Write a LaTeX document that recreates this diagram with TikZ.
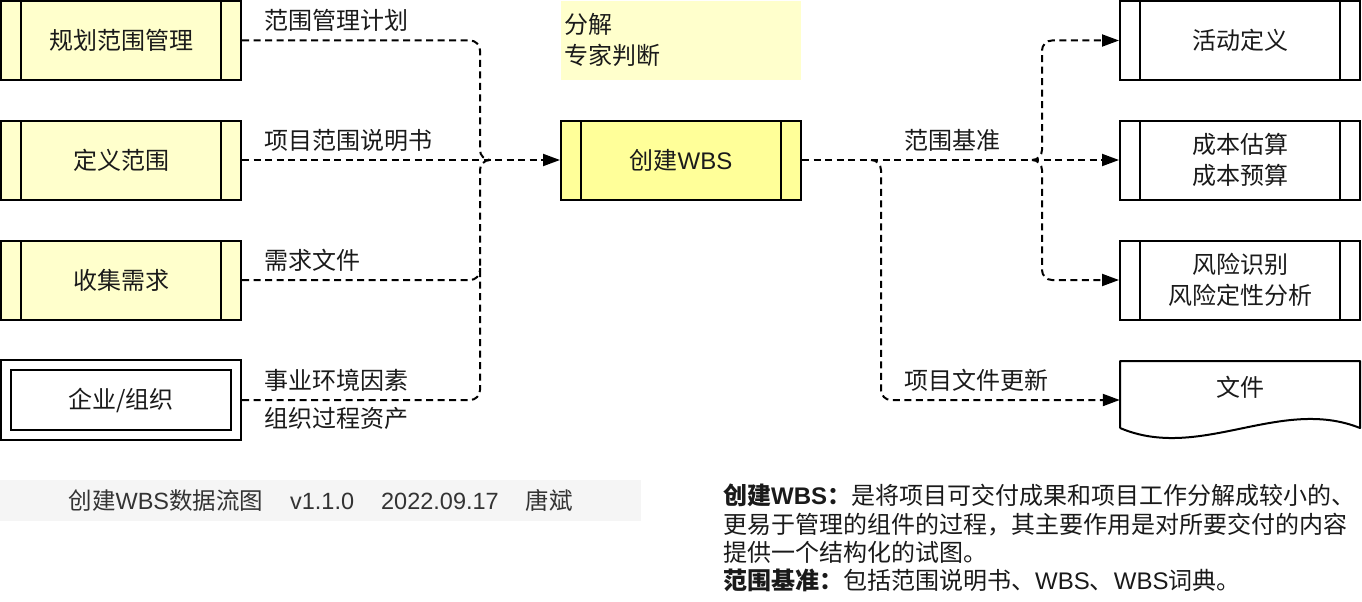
\documentclass[tikz,border=0pt]{standalone}
\usepackage{fontspec}
\setmainfont{Noto Sans CJK SC}
\newfontfamily\lat{Liberation Sans}
\usetikzlibrary{arrows.meta,calc}
\definecolor{paleyellow}{HTML}{FFFFCC}
\definecolor{brightyellow}{HTML}{FFFF99}
\definecolor{footgray}{HTML}{F5F5F5}
\definecolor{ink}{HTML}{1A1A1A}
\definecolor{foottext}{HTML}{333333}

\begin{document}
\begin{tikzpicture}[x=1pt,y=-1pt,
  every node/.style={font=\fontsize{24}{31}\selectfont, text=ink},
  proc/.style={draw=black, line width=2pt, minimum width=240pt,
    minimum height=79pt, inner sep=0pt, align=center,
    path picture={
      \draw[line width=2pt]
        ([xshift=20pt]path picture bounding box.south west) --
        ([xshift=20pt]path picture bounding box.north west)
        ([xshift=-20pt]path picture bounding box.south east) --
        ([xshift=-20pt]path picture bounding box.north east);}},
  inproc/.style={proc, fill=paleyellow},
  mainproc/.style={proc, fill=brightyellow},
  outproc/.style={proc, fill=white},
  entity/.style={draw=black, line width=2pt, double, double distance=8pt,
    minimum width=230pt, minimum height=70pt, outer sep=6pt, inner sep=0pt},
  flowlabel/.style={anchor=west, inner sep=0pt},
  flow/.style={draw=black, line width=2pt, dash pattern=on 7pt off 4.5pt,
    rounded corners=10pt},
  flowarrow/.style={flow, -{Triangle[length=17pt,width=12pt]}},
]
\useasboundingbox (0,0) rectangle (1362,602);

% inputs
\node[inproc] (plan) at (121,40.5) {规划范围管理};
\node[inproc] (define) at (121,160) {定义范围};
\node[inproc] (collect) at (121,280) {收集需求};
\node[entity] (org) at (121,400) {企业/组织};

% tools note and main process
\node[fill=paleyellow, minimum width=240pt, minimum height=79pt] (tools) at (681,40.5) {};
\node[anchor=west, align=left, inner sep=0pt] (toolstext) at (564,40) {分解\\专家判断};
\node[mainproc] (wbs) at (681,160) {创建{\lat WBS}};

% outputs
\node[outproc] (act) at (1240,40.5) {活动定义};
\node[outproc] (cost) at (1240,160) {成本估算\\成本预算};
\node[outproc] (risk) at (1240,280) {风险识别\\风险定性分析};
\node[minimum width=240pt, minimum height=80pt, inner sep=0pt] (doc) at (1240,400) {};
\draw[line width=2pt, line join=round]
  (1120,428) -- (1120,361) -- (1360,361) -- (1360,428)
  .. controls (1280,396) and (1200,462) .. (1120,428);
\node (doctext) at (1240,387) {文件};

% junctions
\coordinate (jl) at (480,160);
\coordinate (jlm) at (490,160);
\coordinate (jc) at (480,268);
\coordinate (jr) at (1042,160);
\coordinate (jrm) at (1032,160);
\coordinate (jd) at (881,160);
\coordinate (jdm) at (871,160);

% input flows
\draw[flow] (plan.east) -| (jl) -- (jlm);
\draw[flowarrow] (define.east) -- (wbs.west);
\draw[flow] (collect.east) -| (jc);
\draw[flow] (org.east) -| (jl) -- (jlm);

% output flows
\draw[flowarrow] (wbs.east) -- (cost.west);
\draw[flowarrow] (jrm) -- (jr) |- (act.west);
\draw[flowarrow] (jrm) -- (jr) |- (risk.west);
\draw[flowarrow] (jdm) -- (jd) |- (doc.west);

% flow labels
\node[flowlabel] at (264,20) {范围管理计划};
\node[flowlabel] at (264,140) {项目范围说明书};
\node[flowlabel] at (264,260) {需求文件};
\node[flowlabel] at (264,380) {事业环境因素};
\node[flowlabel] at (264,418) {组织过程资产};
\node[flowlabel] at (904,140) {范围基准};
\node[flowlabel] at (904,380) {项目文件更新};

% footer
\node[fill=footgray, minimum width=641pt, minimum height=41pt, anchor=north west,
  inner sep=0pt, text=foottext, font=\fontsize{23.5}{28}\selectfont] (footer) at (0,480)
  {创建{\lat WBS}数据流图\hspace{27pt}{\lat v1.1.0}\hspace{27pt}{\lat 2022.09.17}\hspace{27pt}唐斌};

% description
\node[anchor=north west, align=left, inner sep=0pt,
  font=\fontsize{24}{28.3}\selectfont] (desc) at (723,484)
  {\textbf{创建{\lat WBS}：}是将项目可交付成果和项目工作分解成较小的、\\
   更易于管理的组件的过程，其主要作用是对所要交付的内容\\
   提供一个结构化的试图。\\
   \textbf{范围基准：}包括范围说明书、{\lat WBS}、{\lat WBS}词典。};
\end{tikzpicture}
\end{document}
